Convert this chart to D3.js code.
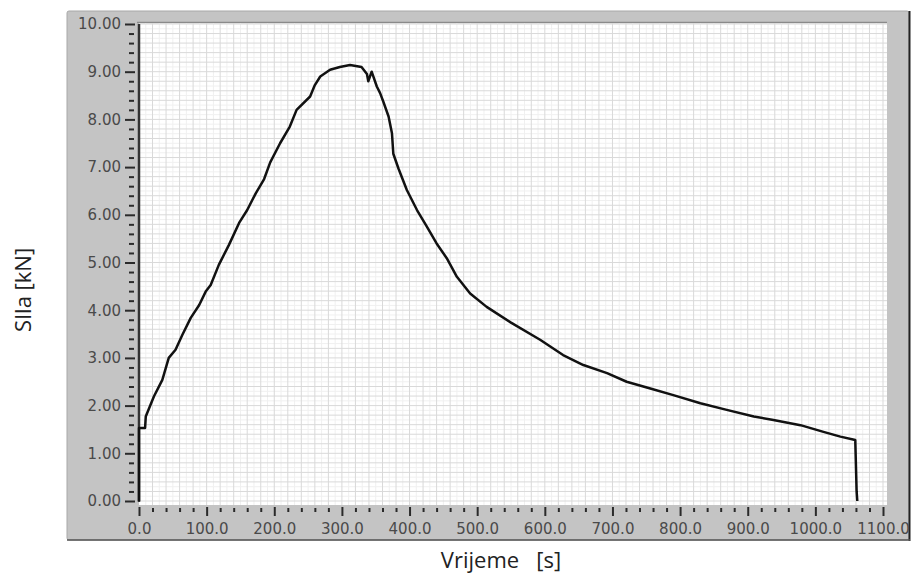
<!DOCTYPE html>
<html>
<head>
<meta charset="utf-8">
<script src="https://cdn.jsdelivr.net/npm/d3@7/dist/d3.min.js"></script>
<style>
  html, body { margin: 0; padding: 0; background: #ffffff; }
  svg { display: block; }
</style>
</head>
<body>
<svg id="chart" width="911" height="577"></svg>
<script>
// ---- data ----
const timeSec = [0, 0, 9, 10, 22, 34.5, 44, 54, 64, 76.5, 89, 98.6, 106, 118, 133, 148, 160, 172.6, 185, 194, 208.6, 223, 233, 253, 260, 268, 282.5, 297, 312, 329, 337, 339, 344, 351.6, 356.5, 361, 369, 374, 376, 383.6, 396, 411, 425.6, 440, 455, 470, 489.6, 514, 550, 593, 627, 657, 692, 721, 756, 790, 830, 869, 909, 938, 978, 1012, 1037, 1059, 1061, 1062];
const forceKN = [0, 1.53, 1.53, 1.77, 2.19, 2.54, 3.0, 3.17, 3.48, 3.84, 4.11, 4.39, 4.53, 4.95, 5.37, 5.83, 6.10, 6.45, 6.75, 7.10, 7.50, 7.85, 8.20, 8.48, 8.72, 8.90, 9.04, 9.10, 9.14, 9.10, 8.95, 8.80, 9.00, 8.69, 8.55, 8.38, 8.06, 7.71, 7.28, 6.97, 6.52, 6.10, 5.75, 5.40, 5.09, 4.70, 4.35, 4.07, 3.74, 3.38, 3.06, 2.85, 2.68, 2.50, 2.36, 2.22, 2.05, 1.91, 1.77, 1.70, 1.59, 1.45, 1.35, 1.28, 0.20, 0];
const xMajorTicks = [0, 100, 200, 300, 400, 500, 600, 700, 800, 900, 1000, 1100];
const yMajorTicks = [0, 1, 2, 3, 4, 5, 6, 7, 8, 9, 10];
const xTitle = "Vrijeme   [s]";
const yTitle = "SIla [kN]";

const svg = d3.select("#chart");

const x = d3.scaleLinear().domain([0, 1100]).range([139, 883]);
const y = d3.scaleLinear().domain([0, 10]).range([501, 24]);

// panel
svg.append("rect").attr("x", 67).attr("y", 11).attr("width", 842).attr("height", 529)
  .attr("fill", "#c4c4c4").attr("stroke", "#a8a8a8").attr("stroke-width", 1).attr("rx", 2);
svg.append("line").attr("x1", 909.5).attr("x2", 909.5).attr("y1", 11).attr("y2", 541)
  .attr("stroke", "#222").attr("stroke-width", 2);
svg.append("line").attr("x1", 67).attr("x2", 910).attr("y1", 540).attr("y2", 540)
  .attr("stroke", "#555").attr("stroke-width", 1.5);

// plot area
const px0 = 139, px1 = 887, py0 = 23, py1 = 505;
svg.append("rect").attr("x", px0).attr("y", py0).attr("width", px1 - px0).attr("height", py1 - py0)
  .attr("fill", "#ffffff");
svg.append("line").attr("x1", px0 - 2).attr("x2", px1).attr("y1", py0 - 0.5).attr("y2", py0 - 0.5)
  .attr("stroke", "#8a8a8a").attr("stroke-width", 1.5);

// grid: fine secondary lines then primary lines
const grid = svg.append("g");
const xFine = d3.range(10, 1100, 20);
const yFine = d3.range(0.1, 10, 0.2);
grid.selectAll(".xf").data(xFine).join("line")
  .attr("x1", d => x(d)).attr("x2", d => x(d)).attr("y1", py0).attr("y2", py1)
  .attr("stroke", "#f0f0f0").attr("stroke-width", 1);
grid.selectAll(".yf").data(yFine).join("line")
  .attr("y1", d => y(d)).attr("y2", d => y(d)).attr("x1", px0).attr("x2", px1)
  .attr("stroke", "#f0f0f0").attr("stroke-width", 1);
const xGrid = d3.range(20, 1101, 20);
const yGrid = d3.range(0, 10.01, 0.2);
grid.selectAll(".xg").data(xGrid).join("line")
  .attr("x1", d => x(d)).attr("x2", d => x(d)).attr("y1", py0).attr("y2", py1)
  .attr("stroke", "#d9d9d9").attr("stroke-width", 1);
grid.selectAll(".yg").data(yGrid).join("line")
  .attr("y1", d => y(d)).attr("y2", d => y(d)).attr("x1", px0).attr("x2", px1)
  .attr("stroke", "#d9d9d9").attr("stroke-width", 1);

// y axis
const yMinor = d3.range(0, 10.01, 0.2).filter(v => Math.abs(v - Math.round(v)) > 0.01);
const yAxisMinor = d3.axisLeft(y).tickValues(yMinor).tickSize(5).tickFormat("");
const gyMin = svg.append("g").attr("transform", "translate(134,0)").call(yAxisMinor);
gyMin.select(".domain").remove();
gyMin.selectAll("line").attr("stroke", "#2a2a2a").attr("stroke-width", 2);

const yAxisMajor = d3.axisLeft(y).tickValues(yMajorTicks).tickSize(10).tickPadding(4)
  .tickFormat(d3.format(".2f"));
const gy = svg.append("g").attr("transform", "translate(135,0)").call(yAxisMajor);
gy.select(".domain").remove();
gy.selectAll("line").attr("stroke", "#2a2a2a").attr("stroke-width", 2);
gy.selectAll("text").attr("font-family", "DejaVu Sans").attr("font-size", 15)
  .attr("fill", "#4a4a4a").attr("x", -14);

svg.append("line").attr("x1", 139).attr("x2", 139).attr("y1", y(10)).attr("y2", y(0) + 1)
  .attr("stroke", "#333").attr("stroke-width", 2.5);

// x axis
const xMinor = d3.range(0, 1101, 20).filter(v => v % 100 !== 0);
const xAxisMinor = d3.axisBottom(x).tickValues(xMinor).tickSize(4).tickFormat("");
const gxMin = svg.append("g").attr("transform", "translate(0,508)").call(xAxisMinor);
gxMin.select(".domain").remove();
gxMin.selectAll("line").attr("stroke", "#2a2a2a").attr("stroke-width", 2);

const xAxisMajor = d3.axisBottom(x).tickValues(xMajorTicks).tickSize(9).tickPadding(7)
  .tickFormat(d3.format(".1f"));
const gx = svg.append("g").attr("transform", "translate(0,507)").call(xAxisMajor);
gx.select(".domain").remove();
gx.selectAll("line").attr("stroke", "#2a2a2a").attr("stroke-width", 2);
gx.selectAll("text").attr("font-family", "DejaVu Sans").attr("font-size", 15)
  .attr("fill", "#4a4a4a");

// curve
const line = d3.line().x((d, i) => x(timeSec[i])).y(d => y(d)).curve(d3.curveLinear);
svg.append("path").datum(forceKN).attr("d", line)
  .attr("fill", "none").attr("stroke", "#111").attr("stroke-width", 2.5)
  .attr("stroke-linejoin", "round");

// titles
svg.append("text").attr("x", 501).attr("y", 568).attr("text-anchor", "middle")
  .attr("font-family", "Open Sans").attr("font-size", 22).attr("fill", "#222")
  .attr("xml:space", "preserve").style("white-space", "pre").text(xTitle);
svg.append("text").attr("transform", "translate(31,290) rotate(-90)").attr("text-anchor", "middle")
  .attr("font-family", "Open Sans").attr("font-size", 22).attr("fill", "#222")
  .text(yTitle);
</script>
</body>
</html>
